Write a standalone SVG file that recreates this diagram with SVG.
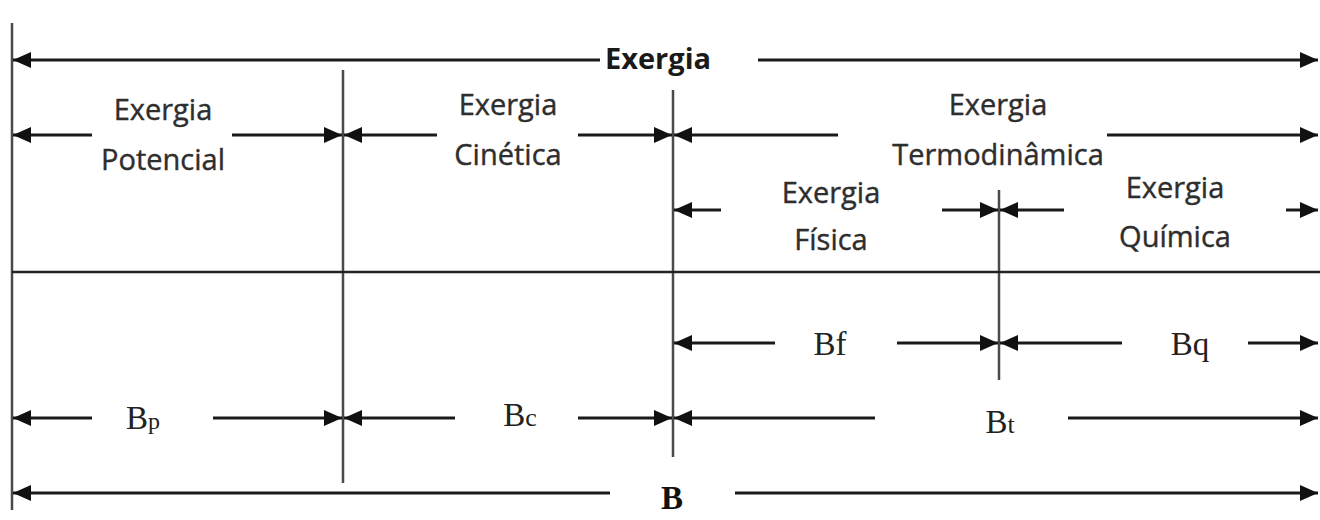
<svg xmlns="http://www.w3.org/2000/svg" width="1320" height="520" viewBox="0 0 1320 520">
  <style>
    .dim { stroke: #1a1a1a; stroke-width: 3; fill: none; }
    .end { marker-end: url(#tip); }
    .start { marker-start: url(#tip); }
    .guide { stroke: #4a4a4a; stroke-width: 2.5; fill: none; }
    .base { stroke: #222; stroke-width: 2.5; fill: none; }
    .lbl { font-family: "Open Sans", "Noto Sans", sans-serif; font-size: 29px; fill: #2e2e2e; stroke: #2e2e2e; stroke-width: 0.4; text-anchor: middle; }
    .ttl { font-family: "Open Sans", "Noto Sans", sans-serif; font-size: 29px; font-weight: bold; fill: #1a1a1a; text-anchor: middle; }
    .sym { font-family: "Liberation Serif", "Times New Roman", serif; font-size: 33px; fill: #222; text-anchor: middle; }
    .symb { font-family: "Liberation Serif", "Times New Roman", serif; font-size: 33px; font-weight: bold; fill: #111; text-anchor: middle; }
  </style>
  <defs>
    <marker id="tip" markerUnits="userSpaceOnUse" markerWidth="19" markerHeight="17" refX="18" refY="8" orient="auto-start-reverse">
      <path d="M0,0 L18,8 L0,16 z" fill="#111"/>
    </marker>
  </defs>
  <rect width="1320" height="520" fill="#fff"/>

  <!-- boundary / divider lines -->
  <g id="guides">
    <line class="guide" x1="12" y1="23" x2="12" y2="510"/>
    <line class="guide" x1="343" y1="70" x2="343" y2="483"/>
    <line class="guide" x1="673" y1="90" x2="673" y2="457"/>
    <line class="guide" x1="999" y1="190" x2="999" y2="380"/>
    <line class="base" x1="12" y1="272" x2="1320" y2="272"/>
  </g>

  <!-- dimension arrows -->
  <g id="connectors">
    <!-- total exergy -->
    <line class="dim start" x1="13" y1="60" x2="600" y2="60"/>
    <line class="dim end" x1="758" y1="60" x2="1318" y2="60"/>
    <!-- potential / kinetic / thermodynamic -->
    <line class="dim start" x1="13" y1="135" x2="92" y2="135"/>
    <line class="dim end" x1="232" y1="135" x2="342" y2="135"/>
    <line class="dim start" x1="344" y1="135" x2="437" y2="135"/>
    <line class="dim end" x1="578" y1="135" x2="672" y2="135"/>
    <line class="dim start" x1="674" y1="135" x2="838" y2="135"/>
    <line class="dim end" x1="1107" y1="135" x2="1318" y2="135"/>
    <!-- physical / chemical -->
    <line class="dim start" x1="674" y1="210" x2="721" y2="210"/>
    <line class="dim end" x1="942" y1="210" x2="998" y2="210"/>
    <line class="dim start" x1="1000" y1="210" x2="1064" y2="210"/>
    <line class="dim end" x1="1286" y1="210" x2="1318" y2="210"/>
    <!-- Bf / Bq -->
    <line class="dim start" x1="674" y1="343" x2="775" y2="343"/>
    <line class="dim end" x1="897" y1="343" x2="998" y2="343"/>
    <line class="dim start" x1="1000" y1="343" x2="1122" y2="343"/>
    <line class="dim end" x1="1248" y1="343" x2="1318" y2="343"/>
    <!-- Bp / Bc / Bt -->
    <line class="dim start" x1="13" y1="418" x2="92" y2="418"/>
    <line class="dim end" x1="213" y1="418" x2="342" y2="418"/>
    <line class="dim start" x1="344" y1="418" x2="455" y2="418"/>
    <line class="dim end" x1="578" y1="418" x2="672" y2="418"/>
    <line class="dim start" x1="674" y1="418" x2="875" y2="418"/>
    <line class="dim end" x1="1068" y1="418" x2="1318" y2="418"/>
    <!-- B -->
    <line class="dim start" x1="13" y1="493" x2="610" y2="493"/>
    <line class="dim end" x1="735" y1="493" x2="1318" y2="493"/>
  </g>

  <g id="exergia"><text class="ttl" x="658" y="69">Exergia</text></g>
  <g id="potencial">
    <text class="lbl" x="163" y="120">Exergia</text>
    <text class="lbl" x="163" y="170">Potencial</text>
  </g>
  <g id="cinetica">
    <text class="lbl" x="508" y="115">Exergia</text>
    <text class="lbl" x="508" y="165">Cinética</text>
  </g>
  <g id="termodinamica">
    <text class="lbl" x="998" y="115">Exergia</text>
    <text class="lbl" x="998" y="165">Termodinâmica</text>
  </g>
  <g id="fisica">
    <text class="lbl" x="831" y="203">Exergia</text>
    <text class="lbl" x="831" y="250">Física</text>
  </g>
  <g id="quimica">
    <text class="lbl" x="1175" y="198">Exergia</text>
    <text class="lbl" x="1175" y="247">Química</text>
  </g>

  <g id="bf"><text class="sym" x="830" y="355">Bf</text></g>
  <g id="bq"><text class="sym" x="1190" y="355">Bq</text></g>
  <g id="bp"><text class="sym" x="143" y="429">B<tspan font-size="24">p</tspan></text></g>
  <g id="bc"><text class="sym" x="520" y="426">B<tspan font-size="26">c</tspan></text></g>
  <g id="bt"><text class="sym" x="1000" y="433">B<tspan font-size="26">t</tspan></text></g>
  <g id="b"><text class="symb" x="672" y="509">B</text></g>
</svg>
